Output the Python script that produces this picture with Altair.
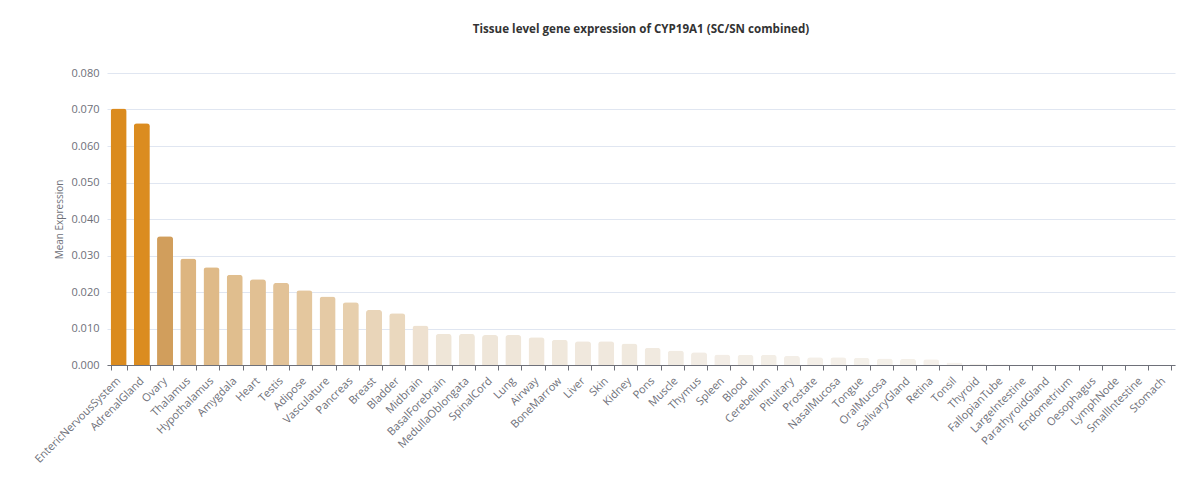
import altair as alt
import pandas as pd

# Mean expression of CYP19A1 per tissue (single-cell / single-nucleus combined)
tissues = [
    "EntericNervousSystem", "AdrenalGland", "Ovary", "Thalamus", "Hypothalamus",
    "Amygdala", "Heart", "Testis", "Adipose", "Vasculature", "Pancreas", "Breast",
    "Bladder", "Midbrain", "BasalForebrain", "MedullaOblongata", "SpinalCord",
    "Lung", "Airway", "BoneMarrow", "Liver", "Skin", "Kidney", "Pons", "Muscle",
    "Thymus", "Spleen", "Blood", "Cerebellum", "Pituitary", "Prostate",
    "NasalMucosa", "Tongue", "OralMucosa", "SalivaryGland", "Retina", "Tonsil",
    "Thyroid", "FallopianTube", "LargeIntestine", "ParathyroidGland",
    "Endometrium", "Oesophagus", "LymphNode", "SmallIntestine", "Stomach",
]
mean_expression = [
    0.0703, 0.0662, 0.0353, 0.0292, 0.0268,
    0.0247, 0.0235, 0.0225, 0.0205, 0.0188, 0.0172, 0.0151,
    0.0142, 0.0108, 0.0085, 0.0085, 0.0082,
    0.0082, 0.0076, 0.0069, 0.0065, 0.0065, 0.0059, 0.0047, 0.0040,
    0.0035, 0.0029, 0.0028, 0.0028, 0.0025, 0.0021,
    0.0021, 0.0020, 0.0018, 0.0017, 0.0016, 0.0007,
    0.0004, 0.0002, 0.0001, 0.0001,
    0.0001, 0.0, 0.0, 0.0, 0.0,
]

# Colour ramp: pale cream for low values up to saturated amber for the top tissues
color_domain = [0.0, 0.004, 0.009, 0.012, 0.018, 0.025, 0.030, 0.036, 0.066, 0.071]
color_range = ["#F7F4EF", "#F1EBE2", "#EFE5D7", "#EDDFCB", "#E6CCA8", "#E0BD8D",
               "#DDB47E", "#CF9B57", "#DB8C20", "#DB8B1E"]

df = pd.DataFrame({"tissue": tissues, "value": mean_expression})

font = "Open Sans"

chart = (
    alt.Chart(df)
    .mark_bar(cornerRadiusTopLeft=3, cornerRadiusTopRight=3)
    .encode(
        x=alt.X(
            "tissue:N",
            sort=tissues,
            title=None,
            scale=alt.Scale(paddingInner=0.31, paddingOuter=0.155),
            axis=alt.Axis(
                labelAngle=-45,
                labelAlign="right",
                labelBaseline="middle",
                labelFontSize=11,
                labelColor="#6E7079",
                labelFont=font,
                labelPadding=9,
                tickBand="extent",
                tickColor="#6E7079",
                tickSize=5,
                domainColor="#6E7079",
                grid=False,
            ),
        ),
        y=alt.Y(
            "value:Q",
            title="Mean Expression",
            scale=alt.Scale(domain=[0, 0.08], nice=False),
            axis=alt.Axis(
                format=".3f",
                values=[0, 0.01, 0.02, 0.03, 0.04, 0.05, 0.06, 0.07, 0.08],
                labelFontSize=11,
                labelColor="#6E7079",
                labelFont=font,
                labelPadding=8,
                ticks=False,
                domain=False,
                gridColor="#E0E6F1",
                titleFontSize=10,
                titleFont=font,
                titleFontWeight="normal",
                titleColor="#6E7079",
                titlePadding=6,
            ),
        ),
        color=alt.Color(
            "value:Q",
            scale=alt.Scale(domain=color_domain, range=color_range, interpolate="rgb"),
            legend=None,
        ),
        tooltip=["tissue", "value"],
    )
    .properties(
        width=1068,
        height=292,
        title=alt.TitleParams(
            "Tissue level gene expression of CYP19A1 (SC/SN combined)",
            fontSize=11.6,
            fontWeight="bold",
            font=font,
            color="#333333",
            anchor="middle",
            offset=31,
        ),
        autosize=alt.AutoSizeParams(type="none"),
        padding={"left": 107, "top": 73, "right": 25, "bottom": 115},
    )
    .configure_view(stroke=None)
)

chart.save("out.html", embed_options={"renderer": "svg", "actions": False})
